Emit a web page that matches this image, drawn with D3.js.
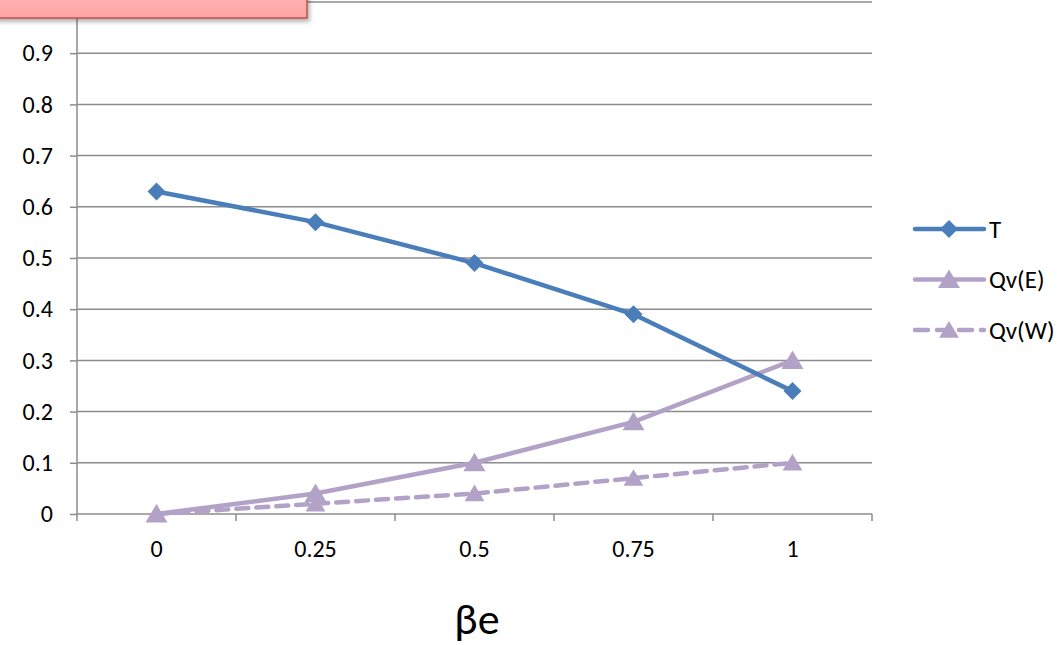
<!DOCTYPE html>
<html><head><meta charset="utf-8">
<script src="https://cdn.jsdelivr.net/npm/d3@7"></script>
<style>body{margin:0;background:#fff;}svg{display:block;font-family:Carlito,Lato,"Liberation Sans",sans-serif;}</style>
</head><body><svg id="c" width="1062" height="645"></svg>
<script>
const categories = ["0", "0.25", "0.5", "0.75", "1"];
const seriesT = [0.63, 0.57, 0.49, 0.39, 0.24];
const seriesQvE = [0, 0.04, 0.10, 0.18, 0.30];
const seriesQvW = [0, 0.02, 0.04, 0.07, 0.10];
const yTicks = [0, 0.1, 0.2, 0.3, 0.4, 0.5, 0.6, 0.7, 0.8, 0.9, 1.0];
const xTitle = "βe";

const svg = d3.select("#c");
const x = d3.scaleBand().domain(categories).range([77, 872]).padding(0);
const y = d3.scaleLinear().domain([0, 1]).range([514, 2]);
const blue = "#4a7ebb", purple = "#b3a2c7", grid = "#8c8c8c";
const FS = 24;

// gridlines
svg.append("g").selectAll("line").data(yTicks.filter(d => d > 0)).join("line")
  .attr("x1", 77).attr("x2", 872).attr("y1", d => y(d)).attr("y2", d => y(d))
  .attr("stroke", grid).attr("stroke-width", 1.5);

// y axis
const ya = svg.append("g").attr("transform", "translate(77,0)")
  .call(d3.axisLeft(y).tickValues(yTicks).tickSize(7).tickPadding(17).tickFormat(d => d === 1 ? "" : d3.format("")(+d.toFixed(1))));
ya.select(".domain").attr("stroke", grid).attr("stroke-width", 1.5).attr("d", "M0,0V514");
ya.selectAll(".tick line").attr("stroke", grid).attr("stroke-width", 1.5);
ya.selectAll("text").attr("font-size", FS).attr("fill", "#000").attr("font-family", "Carlito,Lato,sans-serif");

// x axis
const xa = svg.append("g").attr("transform", "translate(0,514)")
  .call(d3.axisBottom(x).tickSize(0).tickPadding(26));
xa.select(".domain").attr("stroke", grid).attr("stroke-width", 1.5).attr("d", "M77,0H872");
xa.selectAll("text").attr("font-size", FS).attr("fill", "#000").attr("font-family", "Carlito,Lato,sans-serif");
const bounds = categories.map(c => x(c)).concat([x(categories[categories.length - 1]) + x.bandwidth()]);
svg.append("g").selectAll("line").data(bounds).join("line")
  .attr("x1", d => d).attr("x2", d => d).attr("y1", 514).attr("y2", 521)
  .attr("stroke", grid).attr("stroke-width", 1.5);

const cx = c => x(c) + x.bandwidth() / 2;
const line = d3.line().x((d, i) => cx(categories[i])).y(d => y(d));

function tri(s) { return `M0,${-s}L${s * 1.1},${s * 0.85}L${-s * 1.1},${s * 0.85}Z`; }
function diamond(s) { return `M0,${-s}L${s},0L0,${s}L${-s},0Z`; }

const series = [
  {name: "T", data: seriesT, color: blue, dash: null, marker: diamond(9)},
  {name: "Qv(E)", data: seriesQvE, color: purple, dash: null, marker: tri(10)},
  {name: "Qv(W)", data: seriesQvW, color: purple, dash: "12,8", marker: tri(9)}
];

[series[2], series[1], series[0]].forEach(s => {
  svg.append("path").attr("d", line(s.data)).attr("fill", "none")
    .attr("stroke", s.color).attr("stroke-width", 4.5).attr("stroke-linejoin", "round")
    .attr("stroke-linecap", "round").attr("stroke-dasharray", s.dash);
  svg.append("g").selectAll("path").data(s.data).join("path")
    .attr("transform", (d, i) => `translate(${cx(categories[i])},${y(d)})`)
    .attr("d", s.marker).attr("fill", s.color);
});

// legend
const lg = svg.append("g");
series.forEach((s, i) => {
  const ly = 229 + i * 50.5;
  lg.append("line").attr("x1", 915).attr("x2", 984).attr("y1", ly).attr("y2", ly)
    .attr("stroke", s.color).attr("stroke-width", 4.5).attr("stroke-linecap", "round")
    .attr("stroke-dasharray", s.dash ? "13,9" : null);
  lg.append("path").attr("transform", `translate(949,${ly})`).attr("d", s.marker).attr("fill", s.color);
  lg.append("text").attr("x", 989).attr("y", ly).attr("dy", "0.35em")
    .attr("font-size", 25).text(s.name);
});

// axis title
svg.append("text").attr("x", 477).attr("y", 634).attr("text-anchor", "middle")
  .attr("font-size", 44).text(xTitle);

// pink title box (cut off at top)
const defs = svg.append("defs");
const g = defs.append("linearGradient").attr("id", "pk").attr("x1", 0).attr("y1", 0).attr("x2", 0).attr("y2", 1);
g.append("stop").attr("offset", 0).attr("stop-color", "#ffc0c0");
g.append("stop").attr("offset", 1).attr("stop-color", "#ffa3a3");
const f = defs.append("filter").attr("id", "sh").attr("x", "-10%").attr("y", "-50%").attr("width", "120%").attr("height", "250%");
f.append("feDropShadow").attr("dx", 2).attr("dy", 3).attr("stdDeviation", 2).attr("flood-opacity", 0.3);
svg.append("rect").attr("x", -5).attr("y", -20).attr("width", 312).attr("height", 38)
  .attr("fill", "url(#pk)").attr("stroke", "#c0504d").attr("stroke-width", 1.5).attr("filter", "url(#sh)");
</script></body></html>
